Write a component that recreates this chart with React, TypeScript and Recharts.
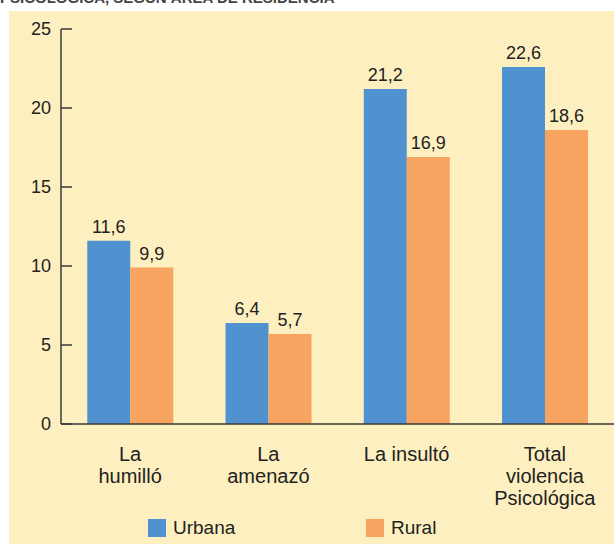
import { BarChart, Bar, XAxis, YAxis, LabelList } from 'recharts'

const categories = ['La\nhumilló', 'La\namenazó', 'La insultó', 'Total\nviolencia\nPsicológica']
const urbana = [11.6, 6.4, 21.2, 22.6]
const rural = [9.9, 5.7, 16.9, 18.6]
const yTicks = [0, 5, 10, 15, 20, 25]

const data = categories.map((c, i) => ({ name: c, urbana: urbana[i], rural: rural[i] }))

const FONT = '"Liberation Sans", Arial, sans-serif'
const BLUE = '#5092d0'
const ORANGE = '#f6a45f'
const AXIS = '#3a3a3a'

const fmt = (v: any) => String(v).replace('.', ',')

function YTick(props: any) {
  const { x, y, payload } = props
  return (
    <g>
      <line x1={x + 10} y1={y} x2={x + 21} y2={y} stroke={AXIS} strokeWidth={1.5} />
      <text x={x} y={y} dy={6} textAnchor="end" fontSize={18} fill="#222" fontFamily={FONT}>
        {payload.value}
      </text>
    </g>
  )
}

function XTick(props: any) {
  const { x, y, payload } = props
  const lines = String(payload.value).split('\n')
  return (
    <text x={x} y={y} textAnchor="middle" fontSize={20} fill="#222" fontFamily={FONT}>
      {lines.map((l, i) => (
        <tspan key={i} x={x} y={y + 29 + i * 22}>
          {l}
        </tspan>
      ))}
    </text>
  )
}

const legendItems = [
  { name: 'Urbana', color: BLUE, left: 148 },
  { name: 'Rural', color: ORANGE, left: 366 },
]

export default function App() {
  return (
    <div style={{ position: 'absolute', left: 0, top: 0, width: 614, height: 544, background: '#fff', overflow: 'hidden' }}>
      <div
        style={{
          position: 'absolute',
          left: 0,
          top: -11,
          whiteSpace: 'nowrap',
          fontFamily: FONT,
          fontWeight: 'bold',
          fontSize: 15,
          color: '#444',
        }}
      >
        PSICOLÓGICA, SEGÚN ÁREA DE RESIDENCIA
      </div>
      <div style={{ position: 'absolute', left: 9, top: 11, width: 605, height: 533, background: '#fdefbf' }} />
      <div style={{ position: 'absolute', left: 0, top: 0 }}>
        <BarChart
          width={614}
          height={544}
          data={data}
          margin={{ top: 29, right: 0, bottom: 0, left: 0 }}
          barCategoryGap="19%"
          barGap={0}
        >
          <XAxis
            dataKey="name"
            tick={<XTick />}
            tickLine={false}
            axisLine={{ stroke: AXIS, strokeWidth: 1.5 }}
            interval={0}
            height={120}
          />
          <YAxis
            domain={[0, 25]}
            ticks={yTicks}
            width={61}
            tick={<YTick />}
            tickLine={false}
            tickSize={0}
            tickMargin={10}
            axisLine={{ stroke: AXIS, strokeWidth: 1.5 }}
          />
          <Bar dataKey="urbana" name="Urbana" fill={BLUE} isAnimationActive={false}>
            <LabelList dataKey="urbana" position="top" offset={8} formatter={fmt} fontSize={18} fill="#222" fontFamily={FONT} />
          </Bar>
          <Bar dataKey="rural" name="Rural" fill={ORANGE} isAnimationActive={false}>
            <LabelList dataKey="rural" position="top" offset={8} formatter={fmt} fontSize={18} fill="#222" fontFamily={FONT} />
          </Bar>
        </BarChart>
      </div>
      {legendItems.map((it) => (
        <div key={it.name} style={{ position: 'absolute', left: it.left, top: 519, display: 'flex', alignItems: 'center' }}>
          <span style={{ width: 18, height: 18, background: it.color, display: 'inline-block' }} />
          <span style={{ marginLeft: 7, fontSize: 19, color: '#222', fontFamily: FONT, lineHeight: '18px' }}>{it.name}</span>
        </div>
      ))}
    </div>
  )
}
